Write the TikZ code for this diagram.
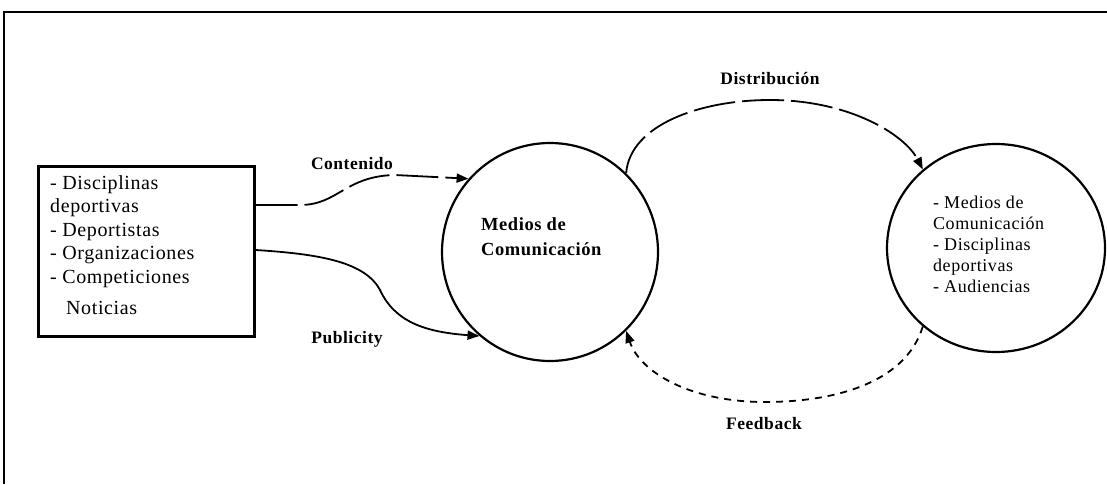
\documentclass[tikz,border=0pt]{standalone}
\usepackage{fontspec}
\setmainfont{Liberation Serif}
\newfontfamily\widefont[LetterSpace=3]{Liberation Serif}
\usetikzlibrary{shapes.geometric,arrows.meta}
\tikzset{
  frameline/.style={line width=1.3pt},
  boxstyle/.style={draw,line width=3pt,rectangle,inner sep=0pt},
  circstyle/.style={draw,line width=2.2pt,ellipse,inner sep=0pt},
  conn/.style={line width=1.8pt,-{Triangle[length=12pt,width=9pt]}},
  longdash/.style={dash pattern=on 42pt off 7pt},
  shortdash/.style={dash pattern=on 7pt off 6pt},
  lbl/.style={font=\widefont\fontsize{17.5}{19}\selectfont\bfseries,inner sep=0pt},
  boxtext/.style={font=\widefont\fontsize{20}{23.5}\selectfont,align=left,inner sep=0pt,anchor=north west},
  medtext/.style={font=\widefont\fontsize{18.5}{25}\selectfont\bfseries,align=left,inner sep=0pt,anchor=north west},
  circtext/.style={font=\widefont\fontsize{18}{21}\selectfont,align=left,inner sep=0pt,anchor=north west},
}
\begin{document}
\begin{tikzpicture}[x=1pt,y=-1pt]
\useasboundingbox (0,0) rectangle (1107,484);
% outer frame (top and left only)
\coordinate (ftl) at (4,12);
\coordinate (ftr) at (1107,12);
\coordinate (fbl) at (4,484);
\draw[frameline] (ftr) -- (ftl) -- (fbl);
% left box
\node[boxstyle,minimum width=216pt,minimum height=170pt] (box) at (146,251) {};
\node[boxtext] (boxtxt) at (50,175) {- Disciplinas\\deportivas\\- Deportistas\\- Organizaciones\\- Competiciones\\[8pt]\hspace*{16pt}Noticias};
% circles
\node[circstyle,minimum width=216pt,minimum height=218pt] (med) at (550,252) {};
\node[medtext] (medtxt) at (481,217) {Medios de\\Comunicación};
\node[circstyle,minimum width=218pt,minimum height=208pt] (rc) at (996,248) {};
\node[circtext] (rctxt) at (933,196) {- Medios de\\Comunicación\\- Disciplinas\\deportivas\\- Audiencias};
% labels
\node[lbl] (lcont) at (352,164) {Contenido};
\node[lbl] (lpub) at (347,339) {Publicity};
\node[lbl] (ldist) at (770,79) {Distribución};
\node[lbl] (lfeed) at (764,424) {Feedback};
% connector end points on the box
\coordinate (c1) at (box.east |- 0,205);
\coordinate (c2) at (box.east |- 0,250);
% connectors
\draw[conn,longdash] (c1) -- (300,205) .. controls (338,205) and (345,176) .. (395,175) -- (med.138);
\draw[conn] (c2) .. controls (320,254) and (365,262) .. (380,290) .. controls (395,322) and (425,332) .. (med.230);
\draw[conn,longdash] (med.46) .. controls (630,125) and (700,100) .. (770,100) .. controls (850,100) and (905,135) .. (rc.133);
\draw[conn,shortdash] (rc.227) .. controls (905,385) and (830,402) .. (765,402) .. controls (690,402) and (640,372) .. (med.314);
\end{tikzpicture}
\end{document}
